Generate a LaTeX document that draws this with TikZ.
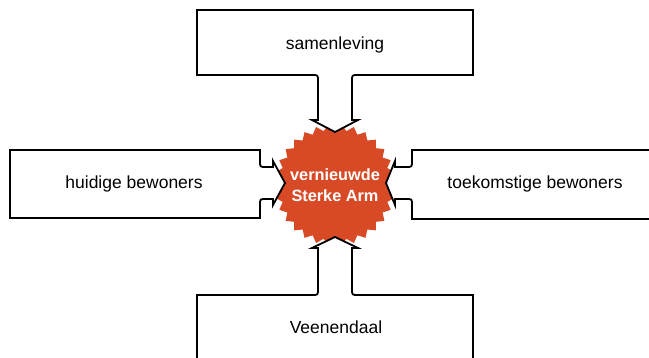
\documentclass[tikz,border=0pt]{standalone}
\usepackage{fontspec}
\setmainfont{Liberation Sans}
\definecolor{armred}{RGB}{216,73,38}
\tikzset{
  box/.style={draw=black,line width=1.8pt,fill=white,line join=miter},
  label/.style={font=\fontsize{17.5}{21}\selectfont,text=black},
}
\begin{document}
\begin{tikzpicture}[x=1pt,y=-1pt]
\useasboundingbox (0,0) rectangle (649,358);

\begin{scope}
\clip (0,0) rectangle (649,358);
\coordinate (o) at (335,185);

% star
\fill[armred,shift={(o)}] (0:61) \foreach \i in {1,...,59} { -- (\i*6:{ifthenelse(isodd(\i),55,61)}) } -- cycle;
\node[text=white,align=center,font=\fontsize{16.3}{21.5}\selectfont\bfseries] (arm) at (o)
  {vernieuwde\\Sterke Arm};

% top
\draw[box] (197,10) -- (473,10) -- (473,75) -- (358,75) .. controls (352,75) .. (352,81)
  -- (352,120) -- (358,120) -- (335,132) -- (312,120) -- (318,120)
  -- (318,81) .. controls (318,75) .. (312,75) -- (197,75) -- cycle;
% left
\draw[box] (10,150) -- (260,150) -- (260,161) .. controls (260,167) .. (266,167)
  -- (273,167) -- (273,161) -- (285,183) -- (273,205) -- (273,199)
  -- (266,199) .. controls (260,199) .. (260,205) -- (260,218) -- (10,218) -- cycle;
% right
\draw[box] (660,150) -- (412,150) -- (412,161) .. controls (412,167) .. (406,167)
  -- (395,167) -- (395,161) -- (386,183) -- (395,205) -- (395,199)
  -- (406,199) .. controls (412,199) .. (412,205) -- (412,219) -- (660,219);
% bottom
\draw[box] (197,365) -- (197,295) -- (312,295) .. controls (318,295) .. (318,289)
  -- (318,248) -- (312,248) -- (335,237) -- (358,248) -- (352,248)
  -- (352,289) .. controls (352,295) .. (358,295) -- (473,295) -- (473,365);
\end{scope}

\node[label] (samen) at (335,45) {samenleving};
\node[label] (huidig) at (134,184) {huidige bewoners};
\node[label] (toekomst) at (535,184) {toekomstige bewoners};
\node[label] (veen) at (336,327) {Veenendaal};

\end{tikzpicture}
\end{document}
